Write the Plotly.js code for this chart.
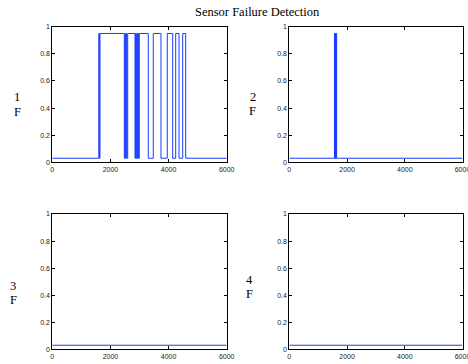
<!DOCTYPE html>
<html>
<head>
<meta charset="utf-8">
<script src="https://cdn.plot.ly/plotly-3.0.1.min.js"></script>
<style>html,body{margin:0;padding:0;background:#fff;}#chart{width:468px;height:364px;}</style>
</head>
<body>
<div id="chart"></div>
<script>
// Data (step signals: failure flag per sensor)
var sensor1X = [0, 1600, 1620, 1640, 2477, 2500, 2520, 2545, 2565, 2594, 2845, 2865, 2885, 2905, 2925, 2945, 2965, 2993, 3302, 3474, 3739, 3956, 4142, 4245, 4359, 4486, 4589, 6000];
var sensor1Y = [0.03, 0.95, 0.03, 0.95, 0.03, 0.95, 0.03, 0.95, 0.03, 0.95, 0.03, 0.95, 0.03, 0.95, 0.03, 0.95, 0.03, 0.95, 0.03, 0.95, 0.03, 0.95, 0.03, 0.95, 0.03, 0.95, 0.03, 0.03];
var sensor2X = [0, 1565, 1575, 1585, 1595, 1605, 1615, 1625, 1640, 6000];
var sensor2Y = [0.03, 0.95, 0.03, 0.95, 0.03, 0.95, 0.03, 0.95, 0.03, 0.03];
var sensor3X = [0, 6000];
var sensor3Y = [0.03, 0.03];
var sensor4X = [0, 6000];
var sensor4Y = [0.03, 0.03];
var xTicks = [0, 2000, 4000, 6000];
var xTickText = ['0', '2000', '4000', '6000'];
var yTicks = [0, 0.2, 0.4, 0.6, 0.8, 1];
var yTickText = ['0', '0.2', '0.4', '0.6', '0.8', '1'];
var titleText = 'Sensor Failure Detection';
var sensorLabels = ['1', '2', '3', '4'];

var W = 468, H = 364;
function px(x) { return x / W; }
function py(y) { return 1 - y / H; }

var lineColor = 'rgb(25,60,255)';
var xs = [sensor1X, sensor2X, sensor3X, sensor4X];
var ys = [sensor1Y, sensor2Y, sensor3Y, sensor4Y];
var traces = [];
for (var i = 0; i < 4; i++) {
  traces.push({
    x: xs[i], y: ys[i], type: 'scatter', mode: 'lines',
    line: {shape: 'hv', color: lineColor, width: 1},
    xaxis: i === 0 ? 'x' : 'x' + (i + 1),
    yaxis: i === 0 ? 'y' : 'y' + (i + 1),
    showlegend: false, hoverinfo: 'skip'
  });
}

var xDomL = [px(52.3), px(226.7)];
var xDomR = [px(289.3), px(462.5)];
var yDomT = [py(162.3), py(26.7)];
var yDomB = [py(349.3), py(214)];

function xa(dom, anchor) {
  return {
    domain: dom, anchor: anchor, range: [0, 6000],
    tickmode: 'array', tickvals: xTicks, ticktext: xTickText,
    ticks: 'inside', ticklen: 3, tickcolor: '#000', tickwidth: 1,
    showline: true, linecolor: '#000', linewidth: 1, mirror: 'ticks',
    showgrid: false, zeroline: false, ticklabeloverflow: 'allow',
    tickfont: {family: 'Liberation Sans, Arial, sans-serif', size: 7, color: '#222'}
  };
}
function ya(dom, anchor) {
  return {
    domain: dom, anchor: anchor, range: [0, 1],
    tickmode: 'array', tickvals: yTicks, ticktext: yTickText,
    ticks: 'inside', ticklen: 3, tickcolor: '#000', tickwidth: 1,
    showline: true, linecolor: '#000', linewidth: 1, mirror: 'ticks',
    showgrid: false, zeroline: false, ticklabeloverflow: 'allow',
    tickfont: {family: 'Liberation Sans, Arial, sans-serif', size: 7, color: '#222'}
  };
}

var serif = {family: 'Liberation Serif, Times New Roman, serif', size: 12.5, color: '#000'};
var labelPos = [
  {x: 17, y1: 97, y2: 112},
  {x: 253, y1: 97, y2: 111},
  {x: 13, y1: 285.5, y2: 299.5},
  {x: 249, y1: 280, y2: 294}
];
var annotations = [{
  text: titleText, x: px(257), y: py(12), xref: 'paper', yref: 'paper',
  xanchor: 'center', yanchor: 'middle', showarrow: false,
  font: {family: 'Liberation Serif, Times New Roman, serif', size: 12.5, color: '#000'}
}];
for (var k = 0; k < 4; k++) {
  var p = labelPos[k];
  annotations.push({text: sensorLabels[k], x: px(p.x), y: py(p.y1), xref: 'paper', yref: 'paper',
    xanchor: 'center', yanchor: 'middle', showarrow: false, font: serif});
  annotations.push({text: 'F', x: px(p.x), y: py(p.y2), xref: 'paper', yref: 'paper',
    xanchor: 'center', yanchor: 'middle', showarrow: false, font: serif});
}

var layout = {
  width: W, height: H,
  margin: {l: 0, r: 0, t: 0, b: 0, pad: 0},
  paper_bgcolor: '#fff', plot_bgcolor: '#fff',
  xaxis: xa(xDomL, 'y'), yaxis: ya(yDomT, 'x'),
  xaxis2: xa(xDomR, 'y2'), yaxis2: ya(yDomT, 'x2'),
  xaxis3: xa(xDomL, 'y3'), yaxis3: ya(yDomB, 'x3'),
  xaxis4: xa(xDomR, 'y4'), yaxis4: ya(yDomB, 'x4'),
  annotations: annotations
};

Plotly.newPlot('chart', traces, layout, {staticPlot: true, displayModeBar: false});
</script>
</body>
</html>
